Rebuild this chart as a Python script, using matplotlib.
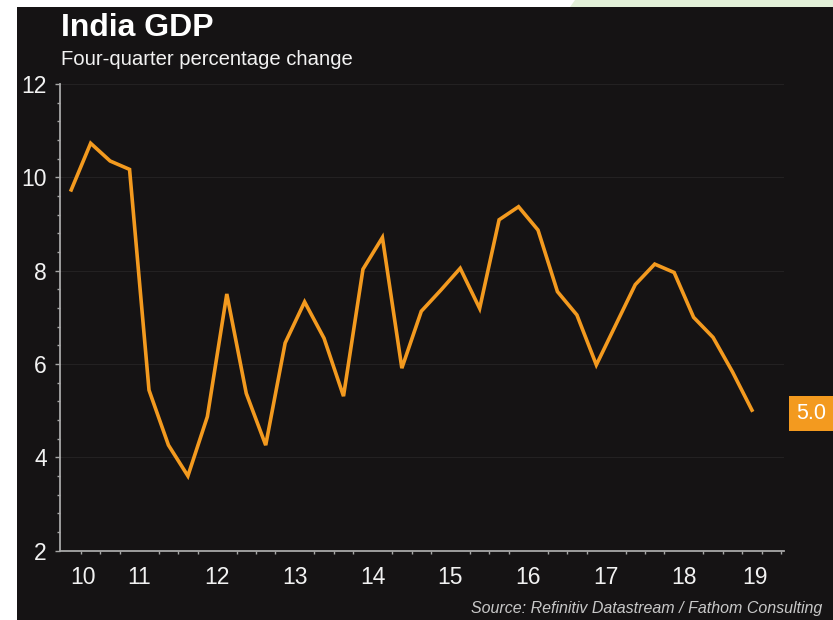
import numpy as np
import pandas as pd
import matplotlib
matplotlib.use('Agg')
import matplotlib.pyplot as plt
from matplotlib.patches import Rectangle, Polygon
from matplotlib.transforms import blended_transform_factory

plt.rcParams['font.family'] = ['Liberation Sans', 'DejaVu Sans']

# %%
# India GDP, four-quarter % change, 2010Q3 - 2019Q2
start_q = '2010Q3'
end_q = '2019Q2'
gdp = [9.73, 10.73, 10.35, 10.17, 5.44, 4.26, 3.60, 4.87,
       7.50, 5.37, 4.26, 6.45, 7.33, 6.55, 5.31, 8.03,
       8.71, 5.91, 7.13, 7.58, 8.05, 7.19, 9.09, 9.37,
       8.87, 7.55, 7.05, 5.98, 6.84, 7.70, 8.14, 7.96,
       7.00, 6.57, 5.83, 5.01]
year_labels = ['10', '11', '12', '13', '14', '15', '16', '17', '18', '19']
label_pos = [2010.78, 2011.5, 2012.5, 2013.5, 2014.5, 2015.5, 2016.5, 2017.5, 2018.5, 2019.41]

periods = pd.period_range(start_q, end_q, freq='Q')
x = periods.year + (periods.quarter - 0.5) / 4

# %%
bg = '#151314'
orange = '#F39A1F'
axis_col = '#a8a8a8'
txt_col = '#f2f2f2'

fig = plt.figure(figsize=(8.33, 6.2), dpi=100)
fig.patch.set_facecolor('white')
W, H = 833, 620
# dark panel with thin white margin on the left / top, green strip top right
fig.add_artist(Rectangle((17 / W, 0), 1 - 17 / W, 1 - 7 / H, transform=fig.transFigure,
                         facecolor=bg, edgecolor='none', zorder=-10))
fig.add_artist(Polygon([(570 / W, 1 - 7 / H), (575 / W, 1), (1, 1), (1, 1 - 7 / H)],
                       closed=True, transform=fig.transFigure,
                       facecolor='#e3f0d8', edgecolor='none', zorder=-10))

ax = fig.add_axes([60 / W, 1 - 550.6 / H, (784 - 60) / W, (550.6 - 84) / H])
ax.set_facecolor(bg)

ax.plot(x, gdp, color=orange, linewidth=2.6, solid_joinstyle='miter', zorder=3)

ax.set_xlim(2010.481, 2019.787)
ax.set_ylim(2, 12)

# y axis
ax.set_yticks(np.arange(2, 13, 2))
ax.set_yticks(np.arange(2, 12.01, 0.4), minor=True)
ax.tick_params(axis='y', which='major', length=3.5, width=1, color=axis_col,
               labelcolor=txt_col, labelsize=16.5, pad=6)
ax.tick_params(axis='y', which='minor', length=2, width=1, color=axis_col)
ax.grid(axis='y', which='major', color='#232122', linewidth=0.8)
ax.set_axisbelow(True)

# x axis: quarter ticks, year labels mid-year
ax.set_xticks(label_pos, year_labels)
ax.set_xticks(np.arange(2010.75, 2019.76, 0.25), minor=True)
ax.tick_params(axis='x', which='major', length=0, labelcolor=txt_col, labelsize=16.5, pad=11)
ax.tick_params(axis='x', which='minor', length=2.5, width=1, color=axis_col)

for s in ['top', 'right']:
    ax.spines[s].set_visible(False)
for s in ['left', 'bottom']:
    ax.spines[s].set_color(axis_col)
    ax.spines[s].set_linewidth(1.3)

# last value box
trans = blended_transform_factory(ax.transAxes, ax.transData)
ax.text(1.017, gdp[-1] - 0.07, f'{gdp[-1]:.1f}', transform=trans, ha='left', va='center',
        color='white', fontsize=15.5, clip_on=False,
        bbox=dict(boxstyle='square,pad=0.33', facecolor=orange, edgecolor='none'))

# titles
fig.text(61 / W, 1 - 36 / H, 'India GDP', color='white', fontsize=23,
         fontweight='bold', va='baseline', ha='left')
fig.text(61 / W, 1 - 65 / H, 'Four-quarter percentage change', color=txt_col,
         fontsize=14.6, va='baseline', ha='left')
fig.text(822 / W, 1 - 613 / H, 'Source: Refinitiv Datastream / Fathom Consulting',
         color='#c8c8c8', fontsize=11.5, style='italic', va='baseline', ha='right')

plt.savefig('out.png', dpi=100, facecolor=fig.get_facecolor())
